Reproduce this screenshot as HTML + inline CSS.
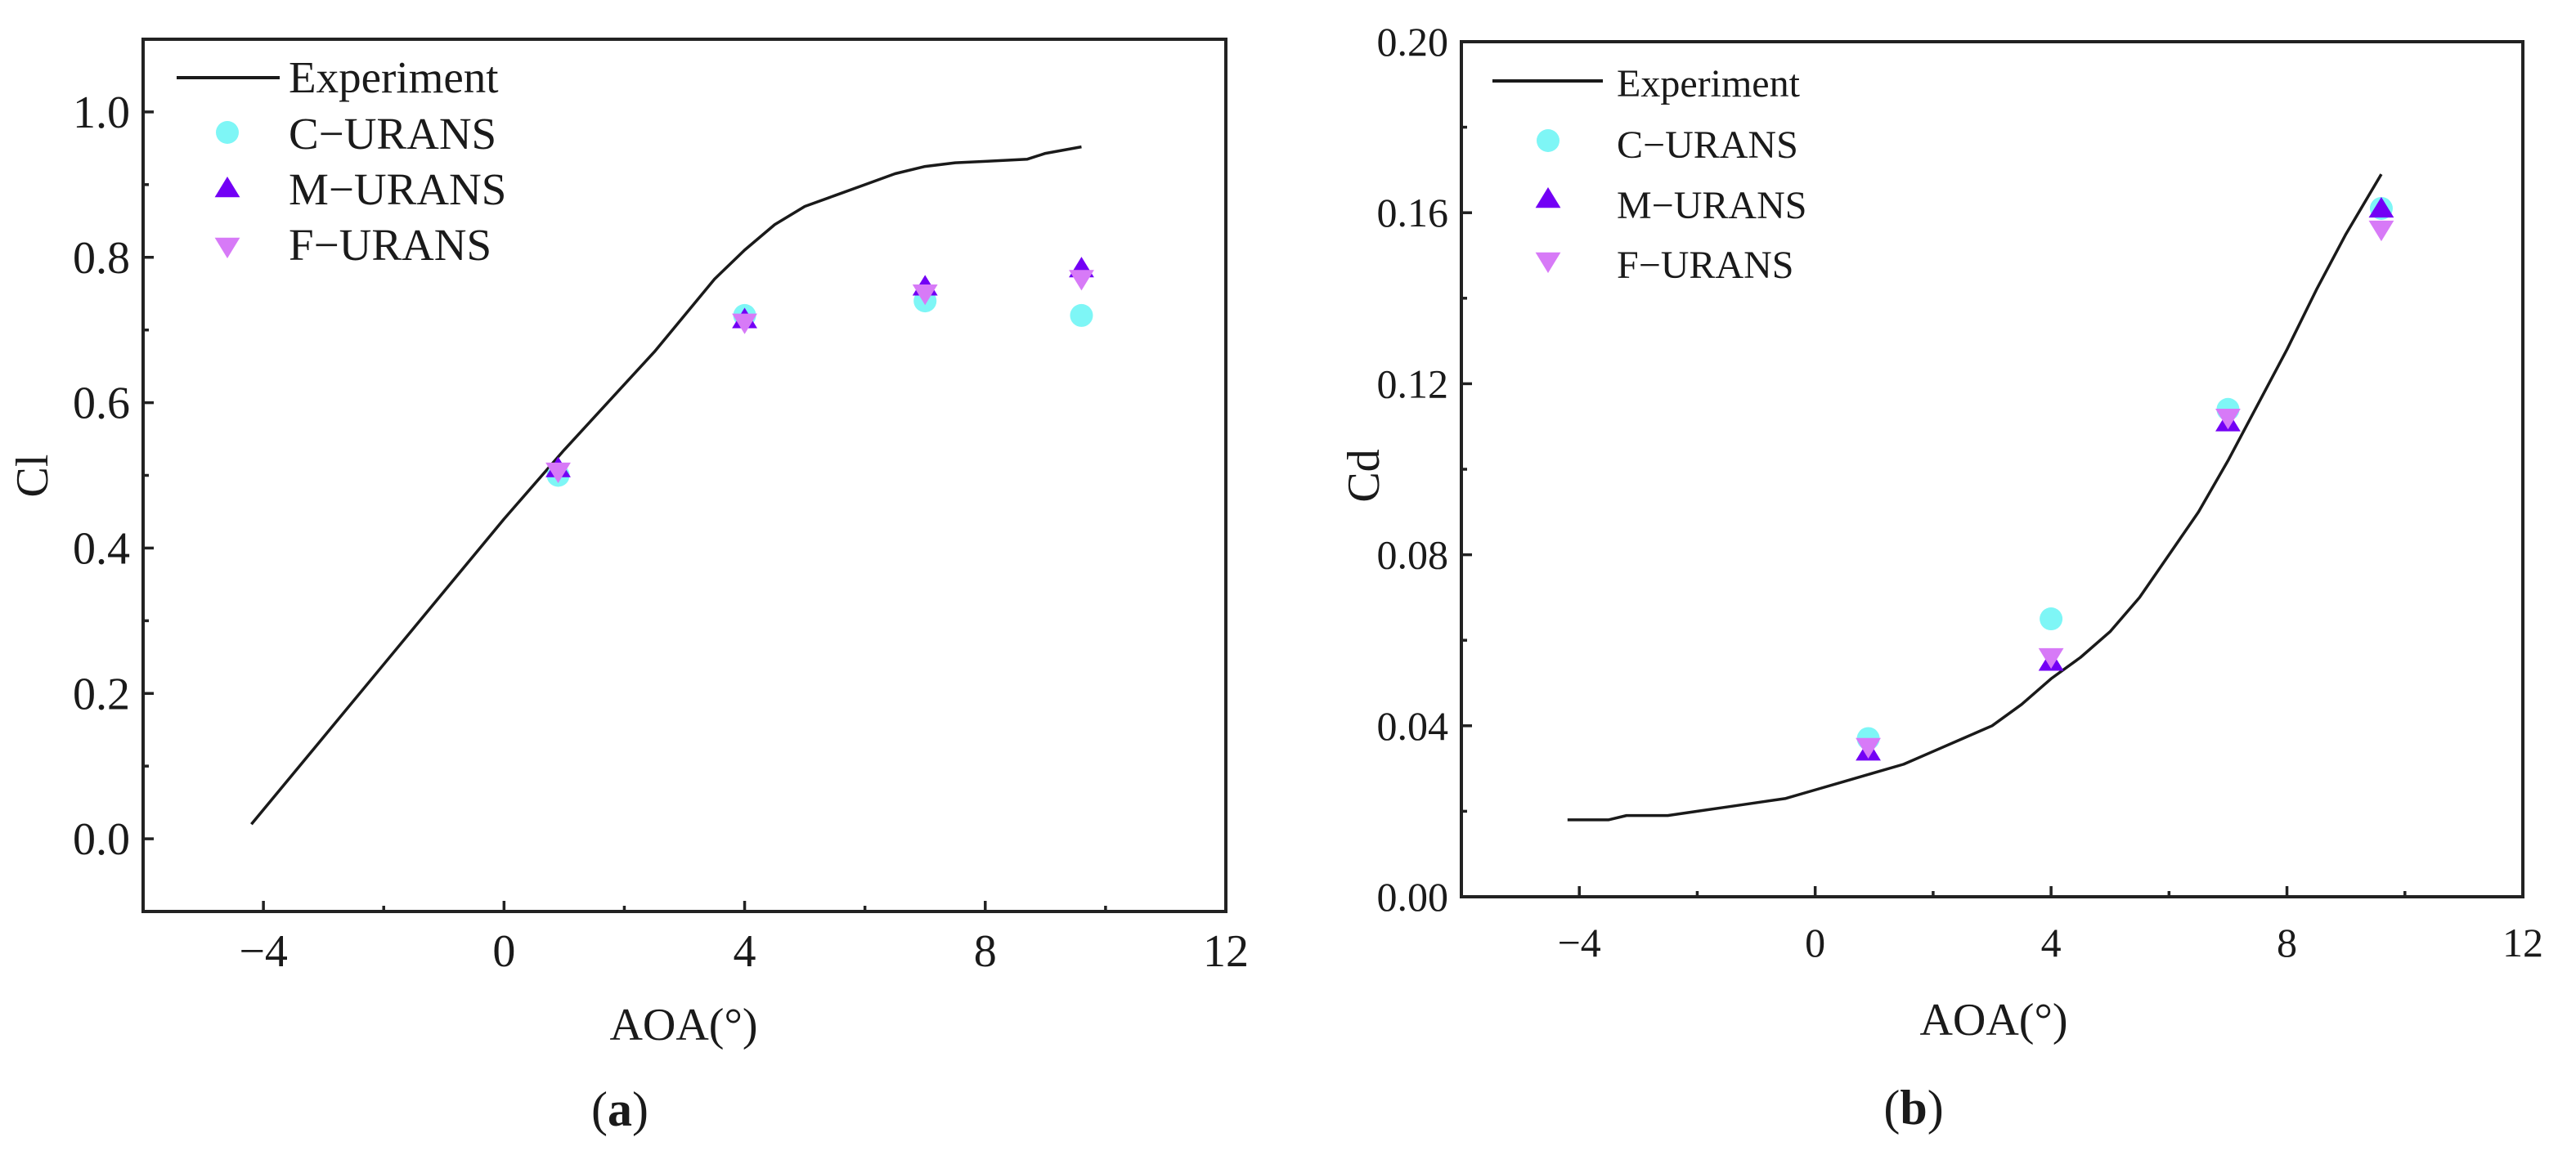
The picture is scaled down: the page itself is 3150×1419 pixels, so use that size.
<!DOCTYPE html>
<html><head><meta charset="utf-8"><style>
html,body{margin:0;padding:0;background:#fff;}
svg{display:block;}
text{font-family:"Liberation Serif",serif;fill:#1a1a1a;}
</style></head>
<body>
<svg id="fig" width="3150" height="1419" viewBox="0 0 3150 1419" xmlns="http://www.w3.org/2000/svg"></svg>
<script>
// ---- Panel (a) data: lift coefficient ----
const clExpX = [-4.2,-3,-2,-1,0,1,2,2.5,3,3.5,4,4.5,5,5.5,6,6.5,7,7.5,8,8.7,9,9.6];
const clExpY = [0.02,0.14,0.24,0.34,0.44,0.535,0.625,0.67,0.72,0.77,0.81,0.845,0.87,0.885,0.90,0.915,0.925,0.93,0.932,0.935,0.943,0.952];
const clAoa = [0.9,4,7,9.6];
const clC = [0.50,0.72,0.74,0.72];
const clM = [0.51,0.715,0.76,0.785];
const clF = [0.505,0.71,0.75,0.77];
const clYTicks = ["0.0","0.2","0.4","0.6","0.8","1.0"];
// ---- Panel (b) data: drag coefficient ----
const cdExpX = [-4.2,-3.5,-3.2,-2.5,-2,-1.5,-1,-0.5,0,0.5,1,1.5,2,2.5,3,3.5,4,4.5,5,5.5,6,6.5,7,7.5,8,8.5,9,9.6];
const cdExpY = [0.018,0.018,0.019,0.019,0.020,0.021,0.022,0.023,0.025,0.027,0.029,0.031,0.034,0.037,0.040,0.045,0.051,0.056,0.062,0.070,0.080,0.090,0.102,0.115,0.128,0.142,0.155,0.169];
const cdAoa = [0.9,4,7,9.6];
const cdC = [0.037,0.065,0.114,0.161];
const cdM = [0.034,0.055,0.111,0.161];
const cdF = [0.035,0.056,0.112,0.156];
const cdYTicks = ["0.00","0.04","0.08","0.12","0.16","0.20"];
const xTicks = ["-4","0","4","8","12"];

const NS="http://www.w3.org/2000/svg";
const svg=document.getElementById('fig');
function mk(tag,attrs,parent,txt){const e=document.createElementNS(NS,tag);for(const k in attrs)e.setAttribute(k,attrs[k]);if(txt!==undefined)e.textContent=txt;(parent||svg).appendChild(e);return e;}
const COL={c:'#7ef6f6',m:'#7300f5',f:'#d77af7'};

function marker(g,type,cx,cy,r){
  let e;
  if(type==='c'){e=mk('circle',{cx:cx,cy:cy,r:r,fill:COL.c},g);}
  else if(type==='m'){e=mk('polygon',{points:`${cx},${cy-r} ${cx-r*1.1},${cy+r*0.8} ${cx+r*1.1},${cy+r*0.8}`,fill:COL.m},g);}
  else {e=mk('polygon',{points:`${cx},${cy+r} ${cx-r*1.1},${cy-r*0.8} ${cx+r*1.1},${cy-r*0.8}`,fill:COL.f},g);}
  return e;
}

function panel(o){
  const g=mk('g',{});
  
  
  const sx=v=>o.L+(v-o.xmin)/(o.xmax-o.xmin)*(o.R-o.L);
  const sy=v=>o.B-(v-o.ymin)/(o.ymax-o.ymin)*(o.B-o.T);
  for(let v=-6;v<=12;v+=2){
    const major=(v%4===0);const len=major?13:7;
    if(v===-6||v===12)continue;
    mk('line',{x1:sx(v),x2:sx(v),y1:o.B,y2:o.B-len,stroke:'#222','stroke-width':3.5},g);
  }
  xTicks.forEach(t=>{const v=parseFloat(t);
    const e=mk('text',{x:sx(v),y:o.xlabY,'text-anchor':'middle','font-size':o.fs},g,t.replace('-','\u2212'));
    });
  const nMinor=o.yTicks.length*2;
  for(let i=0;i<nMinor;i++){
    const v=o.y0+i*o.ystep/2; if(v<=o.ymin+1e-9||v>=o.ymax-1e-9)continue;
    const len=(i%2===0)?13:7;
    mk('line',{x1:o.L,x2:o.L+len,y1:sy(v),y2:sy(v),stroke:'#222','stroke-width':3.5},g);
  }
  o.yTicks.forEach(t=>{const v=parseFloat(t);
    const e=mk('text',{x:o.L-16,y:sy(v)+o.fs*0.34,'text-anchor':'end','font-size':o.fs},g,t);
    });
  const fr=mk('rect',{x:o.L,y:o.T,width:o.R-o.L,height:o.B-o.T,fill:'none',stroke:'#222','stroke-width':4},g);
  
  const pts=o.ex.map((x,i)=>sx(x)+','+sy(o.ey[i])).join(' ');
  const pl=mk('polyline',{points:pts,fill:'none',stroke:'#1a1a1a','stroke-width':3.5,'stroke-linejoin':'round'},g);
  
  [['c',o.sc],['m',o.sm],['f',o.sf]].forEach(([t,arr])=>{
    arr.forEach((v,i)=>{const e=marker(g,t,sx(o.aoa[i]),sy(v),14);
      });
  });
  const lg=mk('g',{},g);
  
  mk('line',{x1:o.lgLine[0],x2:o.lgLine[1],y1:o.lgLineY,y2:o.lgLineY,stroke:'#1a1a1a','stroke-width':4},lg);
  const labels=['Experiment','C\u2212URANS','M\u2212URANS','F\u2212URANS'];
  labels.forEach((s,i)=>{const e=mk('text',{x:o.lgTx,y:o.lgBase[i],'font-size':o.lfs},lg,s);
    });
  ['c','m','f'].forEach((t,i)=>marker(lg,t,o.lgMx,o.lgMy[i],14));
  const xt=mk('text',{x:o.xtX,y:o.xtY,'text-anchor':'middle','font-size':56},g,'AOA(°)');
  
  const yt=mk('text',{x:0,y:0,'text-anchor':'middle','font-size':56,transform:`translate(${o.ytX},${o.ytY}) rotate(-90)`},g,o.ytitle);
  
  const cap=mk('text',{x:o.capX,y:o.capY,'text-anchor':'middle','font-size':60},g);
  
  mk('tspan',{},cap,'(');mk('tspan',{'font-weight':'bold'},cap,o.cap);mk('tspan',{},cap,')');
}

panel({name:'cl-chart',L:175,R:1499,T:48,B:1115,xmin:-6,xmax:12,ymin:-0.1,ymax:1.1,y0:0,ystep:0.2,
  yTicks:clYTicks,ex:clExpX,ey:clExpY,aoa:clAoa,sc:clC,sm:clM,sf:clF,fs:56,xlabY:1182,
  lgLine:[216,342],lgLineY:95,lgTx:353,lgBase:[113,182,250,318],lfs:55,lgMx:278,lgMy:[162,230,302],
  xtX:836,xtY:1272,ytX:58,ytY:582,ytitle:'Cl',capX:758,capY:1377,cap:'a'});
panel({name:'cd-chart',L:1787,R:3085,T:51,B:1097,xmin:-6,xmax:12,ymin:0,ymax:0.2,y0:0,ystep:0.04,
  yTicks:cdYTicks,ex:cdExpX,ey:cdExpY,aoa:cdAoa,sc:cdC,sm:cdM,sf:cdF,fs:50,xlabY:1170,
  lgLine:[1825,1960],lgLineY:99,lgTx:1977,lgBase:[118,193,267,340],lfs:48,lgMx:1893,lgMy:[172,243,320],
  xtX:2438,xtY:1266,ytX:1686,ytY:582,ytitle:'Cd',capX:2340,capY:1375,cap:'b'});
</script>
</body></html>
